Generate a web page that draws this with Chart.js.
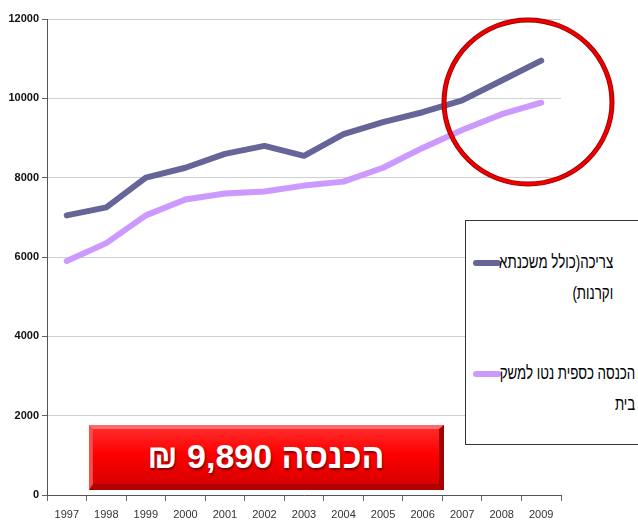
<!DOCTYPE html>
<html>
<head>
<meta charset="utf-8">
<script src="https://cdn.jsdelivr.net/npm/chart.js@4"></script>
<style>
  html, body { margin: 0; padding: 0; background: #fff; }
  #wrap { position: relative; width: 638px; height: 527px; overflow: hidden; }
  #legendBox {
    position: absolute; left: 465px; top: 220px; width: 190px; height: 225px;
    border: 1px solid #333; background: #fff; box-sizing: border-box;
  }
  .swatch { position: absolute; left: 7px; width: 28px; height: 6px; border-radius: 3px; }
  .txt {
    position: absolute; direction: rtl; text-align: right; white-space: nowrap;
    font-family: "Liberation Sans", Arial, sans-serif;
    font-size: 18px; line-height: 31px; color: #000;
    transform: scaleX(0.74); transform-origin: right center;
  }
  #banner {
    position: absolute; left: 89px; top: 425px; width: 355px; height: 65px; box-sizing: border-box;
    background: linear-gradient(#ff2a2a, #f00 45%, #d80000);
    border-top: 4px solid #ff6a6a; border-left: 4px solid #ff4a4a;
    border-right: 5px solid #a00000; border-bottom: 6px solid #b00000;
    color: #fff; direction: rtl; text-align: center;
    font-family: "Liberation Sans", Arial, sans-serif; font-weight: bold; font-size: 34px;
    line-height: 55px; text-shadow: 1px 2px 2px rgba(80,0,0,0.7);
  }
</style>
</head>
<body>
<div id="wrap">
  <canvas id="chart" width="638" height="527"></canvas>
  <div id="legendBox">
    <div class="swatch" style="top:39px;background:#656598;"></div>
    <div class="txt" style="right:41px;top:26px;">צריכה(כולל משכנתא<br>וקרנות)</div>
    <div class="swatch" style="top:150px;background:#cc99ff;"></div>
    <div class="txt" style="right:19px;top:137px;">הכנסה כספית נטו למשק<br>בית</div>
  </div>
  <div id="banner">הכנסה 9,890 ₪</div>
</div>
<script>
const years = ['1997', '1998', '1999', '2000', '2001', '2002', '2003', '2004', '2005', '2006', '2007', '2008', '2009'];
const consumption = [7050, 7250, 8000, 8250, 8600, 8800, 8550, 9100, 9400, 9650, 9950, 10450, 10950];
const income = [5900, 6350, 7050, 7450, 7600, 7650, 7800, 7900, 8250, 8750, 9200, 9600, 9890];
const yTicks = [0, 2000, 4000, 6000, 8000, 10000, 12000];

const font = '"Liberation Sans", Arial, sans-serif';

const circlePlugin = {
  id: 'circle',
  afterDraw(chart) {
    const c = chart.ctx;
    c.save();
    c.beginPath();
    c.ellipse(528, 102, 84, 82, 0, 0, Math.PI * 2);
    c.lineWidth = 5;
    c.strokeStyle = '#a00000';
    c.stroke();
    c.lineWidth = 3;
    c.strokeStyle = '#ee0000';
    c.stroke();
    c.restore();
  }
};

new Chart(document.getElementById('chart'), {
  type: 'line',
  data: {
    labels: years,
    datasets: [{
      label: 'צריכה(כולל משכנתא וקרנות)',
      data: consumption,
      borderColor: '#656598',
      borderWidth: 6,
      pointRadius: 0,
      tension: 0,
      borderCapStyle: 'round',
      borderJoinStyle: 'round'
    }, {
      label: 'הכנסה כספית נטו למשק בית',
      data: income,
      borderColor: '#cc99ff',
      borderWidth: 6,
      pointRadius: 0,
      tension: 0,
      borderCapStyle: 'round',
      borderJoinStyle: 'round'
    }]
  },
  options: {
    responsive: false,
    animation: false,
    layout: { padding: { top: 19, right: 77, left: 0, bottom: 0 } },
    plugins: { legend: { display: false }, tooltip: { enabled: false } },
    scales: {
      x: {
        offset: true,
        grid: { offset: true, drawOnChartArea: false, tickLength: 6, tickColor: '#666' },
        border: { color: '#555', width: 1 },
        ticks: { color: '#333', padding: 7, maxRotation: 0, font: { family: font, size: 11 } },
        afterFit(s) { s.height = 32; }
      },
      y: {
        min: 0,
        max: 12000,
        afterBuildTicks(s) { s.ticks = yTicks.map(v => ({ value: v })); },
        grid: { color: '#cfcfcf', tickLength: 5, tickColor: '#666' },
        border: { color: '#555', width: 1 },
        ticks: {
          color: '#111', padding: 3,
          font: { family: font, size: 11, weight: 'bold' },
          callback: v => String(v)
        },
        afterFit(s) { s.width = 47; }
      }
    }
  },
  plugins: [circlePlugin]
});
</script>
</body>
</html>
